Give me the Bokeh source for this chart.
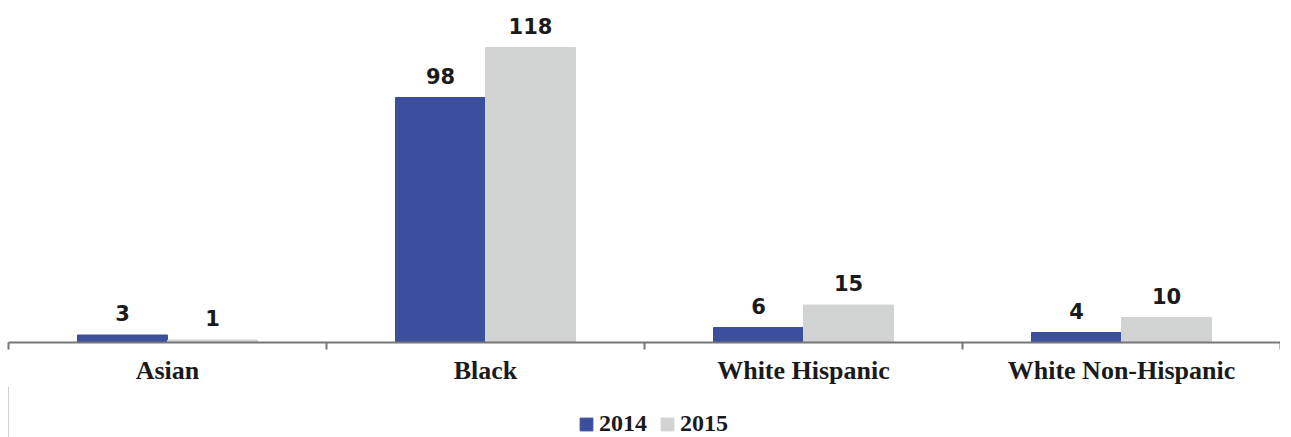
from bokeh.plotting import figure
from bokeh.layouts import column
from bokeh.models import ColumnDataSource, FixedTicker, Legend, LegendItem, Range1d
from bokeh.transform import dodge
from bokeh.core.properties import value
from bokeh.embed import file_html
from bokeh.resources import INLINE

categories = ["Asian", "Black", "White Hispanic", "White Non-Hispanic"]
v2014 = [3, 98, 6, 4]
v2015 = [1, 118, 15, 10]
series = ["2014", "2015"]

C2014 = "#3b4f9c"
C2015 = "#d2d3d3"

xs = [i + 0.5 for i in range(len(categories))]
src = ColumnDataSource(dict(x=xs, cat=categories, a=v2014, b=v2015,
                            la=[str(v) for v in v2014], lb=[str(v) for v in v2015]))

p = figure(frame_width=1272, frame_height=342, output_backend="svg", toolbar_location=None,
           x_range=Range1d(0, 4), y_range=Range1d(0, 136.8),
           min_border_left=8, min_border_right=0, min_border_top=0, min_border_bottom=0)
p.outline_line_color = None
p.grid.grid_line_color = None
p.yaxis.visible = False

w = 0.283
p.vbar(x=dodge("x", -w / 2), top="a", width=w, source=src, color=C2014)
p.vbar(x=dodge("x", w / 2), top="b", width=w, source=src, color=C2015)

lab_font = value("DejaVu Sans")
p.text(x=dodge("x", -w / 2), y="a", text="la", source=src, text_align="center",
       text_baseline="bottom", y_offset=-14, text_font=lab_font, text_font_style="bold",
       text_font_size="21px", text_color="#1a1a1a")
p.text(x=dodge("x", w / 2), y="b", text="lb", source=src, text_align="center",
       text_baseline="bottom", y_offset=-14, text_font=lab_font, text_font_style="bold",
       text_font_size="21px", text_color="#1a1a1a")

ax = p.xaxis[0]
ax.ticker = FixedTicker(ticks=xs, minor_ticks=[0, 1, 2, 3, 4])
ax.major_label_overrides = {x: c for x, c in zip(xs, categories)}
ax.major_tick_line_color = None
ax.minor_tick_out = 7
ax.minor_tick_in = 0
ax.minor_tick_line_color = "#777777"
ax.minor_tick_line_width = 2
ax.axis_line_color = "#777777"
ax.axis_line_width = 2
ax.major_label_standoff = 6
ax.major_label_text_font = "Liberation Serif"
ax.major_label_text_font_style = "bold"
ax.major_label_text_font_size = "26px"
ax.major_label_text_color = "#1a1a1a"
ax.axis_label_standoff = 0

# legend strip (its bars lie outside the visible x range; only the legend shows)
q = figure(width=1280, height=50, output_backend="svg", toolbar_location=None,
           x_range=Range1d(100, 101), y_range=Range1d(0, 1),
           min_border_left=0, min_border_right=0, min_border_top=0, min_border_bottom=0)
q.axis.visible = False
q.grid.grid_line_color = None
q.outline_line_color = None
d1 = q.vbar(x="x", top="a", width=w, source=src, color=C2014)
d2 = q.vbar(x="x", top="b", width=w, source=src, color=C2015)
legend = Legend(items=[LegendItem(label=series[0], renderers=[d1]),
                       LegendItem(label=series[1], renderers=[d2])],
                orientation="horizontal", location=(570, 0),
                label_text_font="Liberation Serif", label_text_font_style="bold",
                label_text_font_size="24px", label_text_color="#1a1a1a",
                glyph_width=16, glyph_height=16, spacing=12, label_standoff=5,
                border_line_color=None, background_fill_alpha=0, padding=0, margin=0)
q.add_layout(legend, "center")

open("out.html", "w").write(file_html(column(p, q, spacing=0), INLINE))
